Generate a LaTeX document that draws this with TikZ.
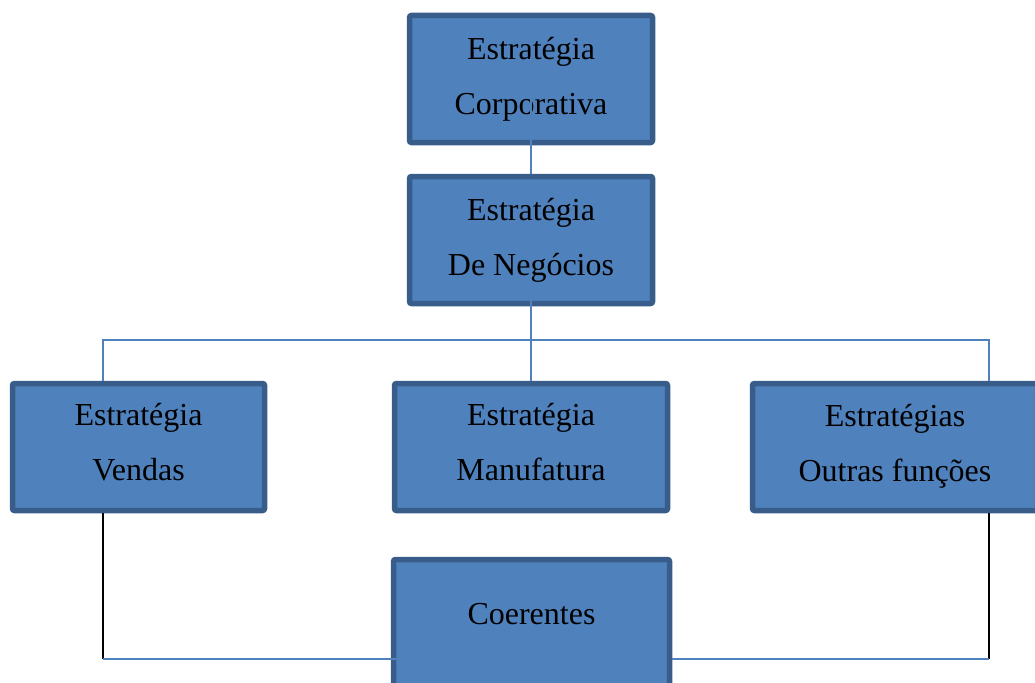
\documentclass[tikz,border=0pt]{standalone}
\usepackage{fontspec}
\setmainfont{Liberation Serif}
\usepackage{xcolor}
\usetikzlibrary{calc}

\definecolor{boxfill}{HTML}{4F81BD}
\definecolor{boxedge}{HTML}{385D8A}

\begin{document}
\begin{tikzpicture}[x=1pt,y=-1pt,
		estbox/.style={draw=boxedge,fill=boxfill,line width=5.5pt,rounded corners=2pt,
			align=center,inner sep=0pt,minimum height=127pt,
			font=\fontsize{32}{55}\selectfont},
		link/.style={draw=boxfill,line width=1.6pt},
		tie/.style={draw=black,line width=1.6pt}]
				\useasboundingbox (0,0) rectangle (1035,682);
				\clip (0,0) rectangle (1035,682);

				% caixas
				\node[estbox,minimum width=243pt] (corp) at (531,79) {Estratégia\\Corporativa};
				\node[estbox,minimum width=243pt] (neg) at (531,240) {Estratégia\\De Negócios};
				\node[estbox,minimum width=252pt,text depth=10pt] (vend) at (138.5,447) {Estratégia\\Vendas};
				\node[estbox,minimum width=273pt,text depth=10pt] (manu) at (531,447) {Estratégia\\Manufatura};
				\node[estbox,minimum width=285pt,text depth=8pt] (outr) at (895,447) {Estratégias\\Outras funções};
				\node[estbox,minimum width=276pt,text depth=18pt] (coer) at (531.5,623) {Coerentes};

				% ligacoes
				\coordinate (barL) at (103,340);
				\coordinate (barR) at (989,340);
				\coordinate (lowL) at (103,659);
				\coordinate (lowR) at (989,659);

				\draw[link] ([yshift=22pt]corp.center) -- (neg.north);
				\draw[link] ([yshift=-40pt]neg.center) -- (manu.north);
				\draw[link] (barL |- vend.north) -- (barL) -- (barR) -- (barR |- outr.north);

				\draw[tie] (barL |- vend.south) -- (lowL);
				\draw[tie] (barR |- outr.south) -- (lowR);
				\draw[link] (lowL) -- ([xshift=32pt]lowL -| coer.west);
				\draw[link] (lowR) -- (lowR -| coer.east);
			\end{tikzpicture}
\end{document}
